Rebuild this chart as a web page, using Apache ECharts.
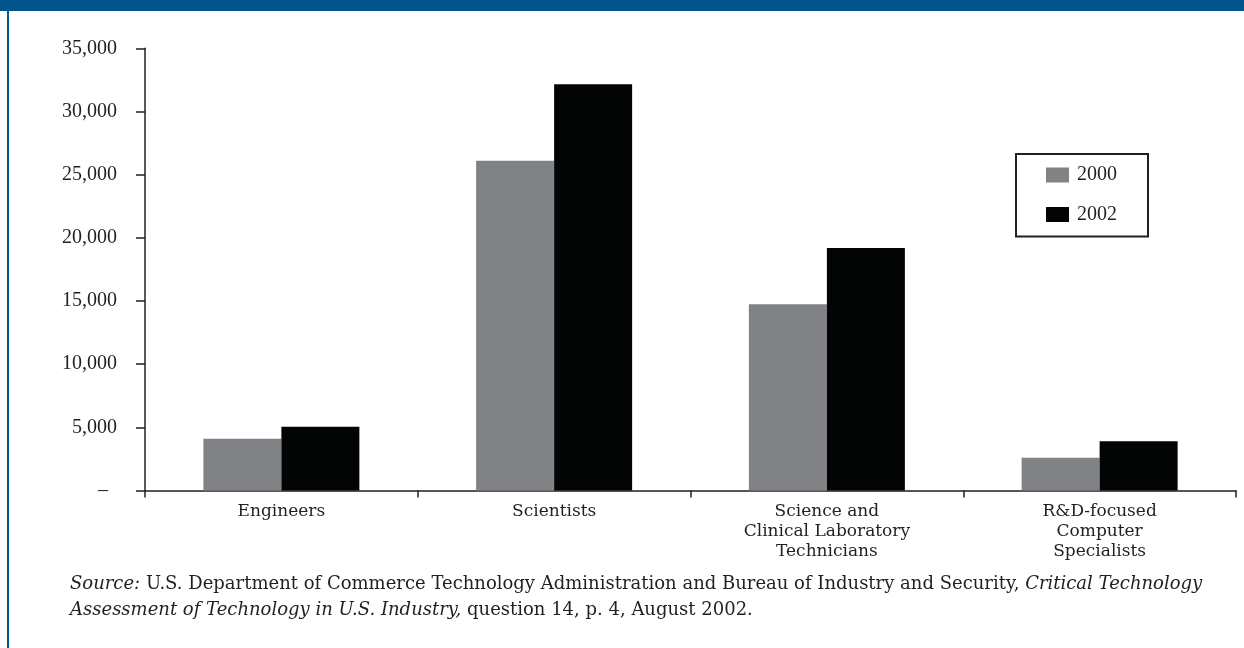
<!DOCTYPE html>
<html>
<head>
<meta charset="utf-8">
<script src="https://cdn.jsdelivr.net/npm/echarts@6/dist/echarts.min.js"></script>
<style>
html,body{margin:0;padding:0;background:#fff;}
#c{width:1244px;height:648px;}
</style>
</head>
<body>
<div id="c"></div>
<script>
const categories = ['Engineers', 'Scientists', 'Science and\nClinical Laboratory\nTechnicians', 'R&D-focused\nComputer\nSpecialists'];
const series2000 = [4100, 26100, 14750, 2600];
const series2002 = [5050, 32150, 19200, 3900];
const yMin = 0, yMax = 35000, yStep = 5000;
const seriesNames = ['2000', '2002'];
const sourceLine1 = '{i|Source:} U.S. Department of Commerce Technology Administration and Bureau of Industry and Security, {i|Critical Technology}';
const sourceLine2 = '{i|Assessment of Technology in U.S. Industry,} question 14, p. 4, August 2002.';

const FONT = '"DejaVu Serif", "Liberation Serif", serif';
const NFONT = '"Liberation Serif", "DejaVu Serif", serif';
const TXT = '#231f20';
const chart = echarts.init(document.getElementById('c'), null, {renderer: 'canvas'});
chart.setOption({
  animation: false,
  backgroundColor: '#fff',
  textStyle: {fontFamily: FONT},
  grid: {left: 145, right: 8, top: 48.3, bottom: 157.5, containLabel: false},
  legend: {
    orient: 'vertical',
    left: 1016, top: 154,
    data: seriesNames,
    icon: 'rect',
    itemWidth: 23, itemHeight: 15,
    itemGap: 19.5,
    padding: [11, 31, 12, 30],
    borderColor: TXT, borderWidth: 2,
    textStyle: {fontFamily: NFONT, fontSize: 20, color: TXT, lineHeight: 20, padding: [0, 0, 0, 3]}
  },
  xAxis: {
    type: 'category',
    data: categories,
    axisLine: {lineStyle: {color: TXT, width: 1.5}},
    axisTick: {show: true, length: 7, lineStyle: {color: TXT, width: 1.5}},
    axisLabel: {fontFamily: FONT, fontSize: 17, color: TXT, lineHeight: 20, margin: 11, interval: 0}
  },
  yAxis: {
    type: 'value',
    min: yMin, max: yMax, interval: yStep,
    splitLine: {show: false},
    axisLine: {show: true, lineStyle: {color: TXT, width: 1.5}},
    axisTick: {show: true, length: 9, lineStyle: {color: TXT, width: 1.5}},
    axisLabel: {
      fontFamily: NFONT, fontSize: 20, color: TXT, margin: 28,
      formatter: v => v === 0 ? '{d|–}' : v.toLocaleString('en-US'),
      rich: {d: {fontFamily: NFONT, fontSize: 20, color: TXT, padding: [0, 9, 0, 0]}}
    }
  },
  series: [
    {name: seriesNames[0], type: 'bar', data: series2000, barWidth: 78, barGap: '0%',
     itemStyle: {color: '#808285'}},
    {name: seriesNames[1], type: 'bar', data: series2002, barWidth: 78, barGap: '0%',
     itemStyle: {color: '#030504'}}
  ],
  graphic: [
    {type: 'rect', left: 0, top: 0, shape: {width: 1244, height: 11}, style: {fill: '#02558c'}, silent: true},
    {type: 'rect', left: 7, top: 0, shape: {width: 2, height: 648}, style: {fill: '#02558c'}, silent: true},
    {type: 'text', left: 70, top: 575, style: {
      text: sourceLine1, font: '18px ' + FONT, fill: TXT,
      rich: {i: {fontStyle: 'italic', fontFamily: FONT, fontSize: 18, fill: TXT}}
    }},
    {type: 'text', left: 70, top: 601, style: {
      text: sourceLine2, font: '18px ' + FONT, fill: TXT,
      rich: {i: {fontStyle: 'italic', fontFamily: FONT, fontSize: 18, fill: TXT}}
    }}
  ]
});
</script>
</body>
</html>
